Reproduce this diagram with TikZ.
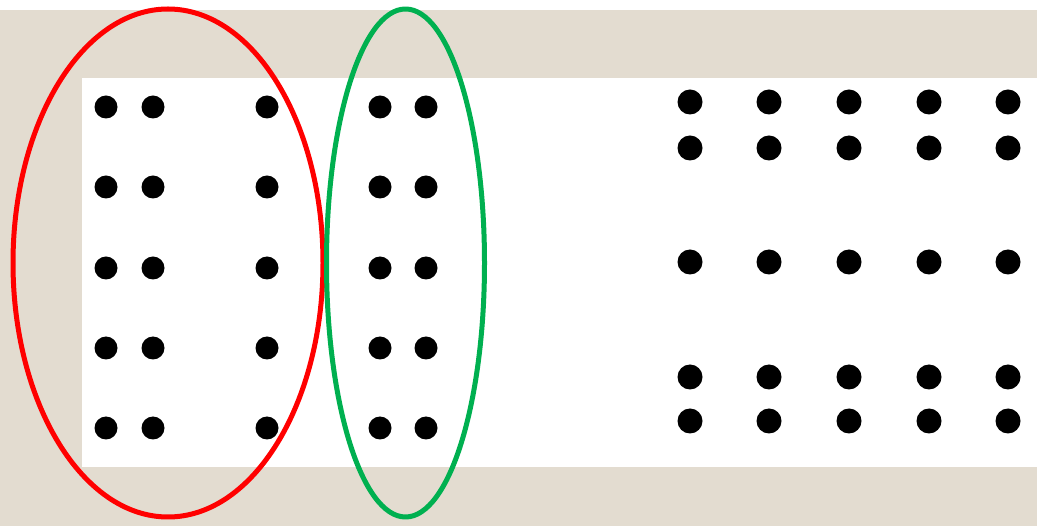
\documentclass[tikz,border=0pt]{standalone}
\usetikzlibrary{calc}
\definecolor{sand}{RGB}{227,220,208}
\definecolor{ringred}{RGB}{255,0,0}
\definecolor{ringgreen}{RGB}{0,176,80}

\begin{document}
\begin{tikzpicture}[x=1pt,y=-1pt,line join=round,line cap=round,
    dotA/.style={fill=black},
    ring/.style={line width=5pt}]
    \useasboundingbox (0,0) rectangle (1037,526);
    \fill[sand] (0,10) rectangle (1037,526);
    \fill[white] (82,78) rectangle (1037,467);
    % left block, five rows
    \foreach \y in {107,187,268,348,428}{
      \foreach \x in {106,153,267,380,426}
        \fill[dotA] (\x,\y) circle (11.5);
    }
    % right block
    \foreach \y in {102,148,262,377,421}{
      \foreach \x in {690,769,849,929,1008}
        \fill[dotA] (\x,\y) circle (12.5);
    }
    \coordinate (R) at (168,263);
    \coordinate (G) at (405.5,263);
    \draw[ring,ringred] (R) ellipse [x radius=155,y radius=254];
    \draw[ring,ringgreen] (G) ellipse [x radius=79,y radius=254];
  \end{tikzpicture}
\end{document}
